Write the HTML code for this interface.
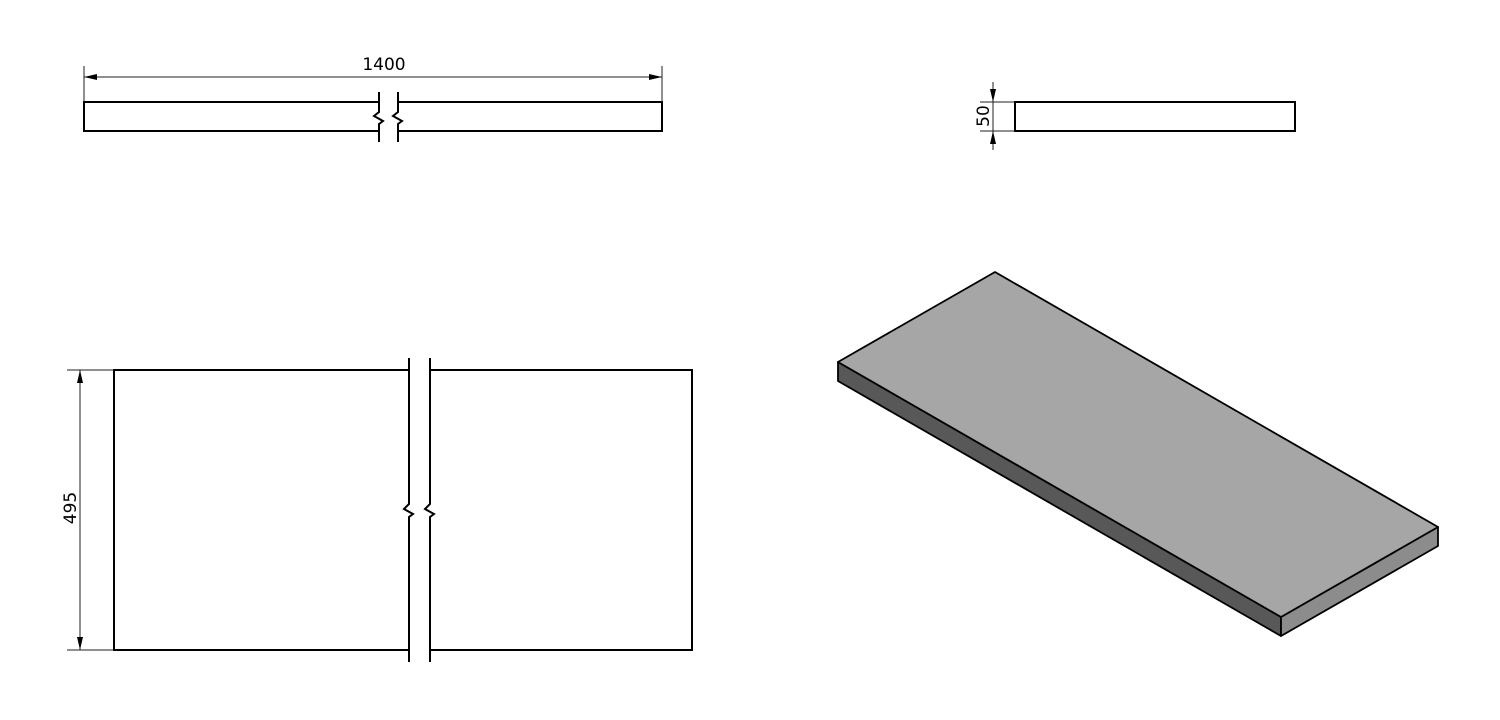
<!DOCTYPE html>
<html><head><style>html,body{margin:0;padding:0;background:#fff}svg{display:block}</style></head>
<body>
<svg width="1500" height="720" viewBox="0 0 1500 720" xmlns="http://www.w3.org/2000/svg" font-family="'DejaVu Sans','Liberation Sans',sans-serif">
<g fill="none" stroke="#000">
<path d="M379,102 H84 V131 H379 M398,102 H662 V131 H398" stroke-width="2"/>
<path d="M379,92 V112 L374,116 L383,121 L379,124 V142 M398,92 V112 L393,116 L402,121 L398,124 V142" stroke-width="2"/>
<path d="M84,66 V102 M662,66 V102 M84,77 H662" stroke-width="1" stroke="#222"/>
<path d="M409,370 H114 V650 H409 M430,370 H692 V650 H430" stroke-width="2"/>
<path d="M409,358 V504 L404,509 L413,514 L409,517 V662 M430,358 V504 L425,509 L434,514 L430,517 V662" stroke-width="2"/>
<path d="M67,370 H114 M67,650 H114 M80,370 V650" stroke-width="1" stroke="#222"/>
<rect x="1015" y="102" width="280" height="29" stroke-width="2"/>
<path d="M980,102 H1015 M980,131 H1015 M993,82 V150" stroke-width="1" stroke="#222"/>
</g>
<g fill="#000">
<path d="M84,77 l13,-3 v6 z M662,77 l-13,-3 v6 z"/>
<path d="M80,370 l-3,13 h6 z M80,650 l-3,-13 h6 z"/>
<path d="M993,102 l-3,-13 h6 z M993,131 l-3,13 h6 z"/>
</g>
<text x="384" y="70" font-size="17" text-anchor="middle">1400</text>
<text transform="translate(76,508) rotate(-90)" font-size="17" text-anchor="middle">495</text>
<text transform="translate(989,116) rotate(-90)" font-size="17" text-anchor="middle">50</text>
<g stroke="#000" stroke-width="1.8" stroke-linejoin="round">
<polygon points="838,362 1281,617 1281,636 838,381" fill="#585858"/>
<polygon points="1281,617 1438,527 1438,546 1281,636" fill="#8c8c8c"/>
<polygon points="838,362 995,272 1438,527 1281,617" fill="#a6a6a6"/>
</g>
</svg>
</body></html>
